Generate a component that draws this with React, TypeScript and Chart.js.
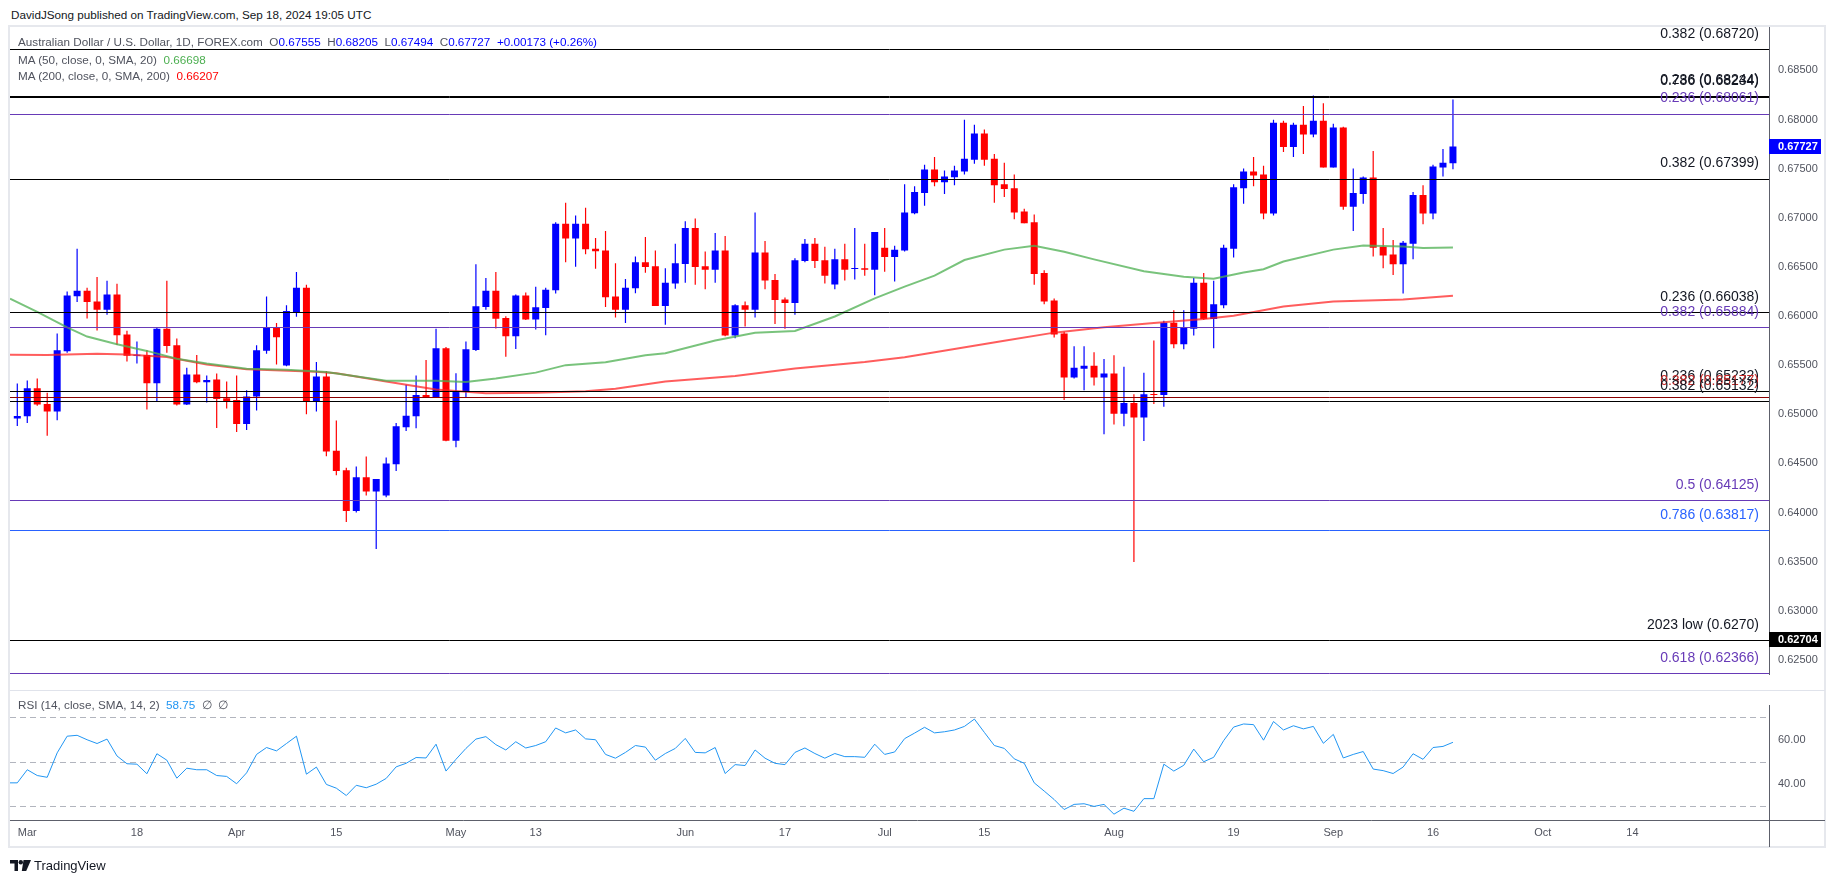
import React, { useEffect, useRef } from "react";
import { Chart, registerables } from "chart.js";

Chart.register(...registerables);

const FONT = "'Liberation Sans', Arial, sans-serif";

// bar index 0 = 29 Feb 2024 ... 144 = 18 Sep 2024 (daily, weekdays)
const opens = [
  0.64956, 0.64980, 0.65264, 0.65105, 0.65029, 0.65642, 0.66202, 0.66258, 0.66149, 0.66063,
  0.66219, 0.65811, 0.65596, 0.65603, 0.65317, 0.65871, 0.65702, 0.65099, 0.65404, 0.65327,
  0.65354, 0.65162, 0.65145, 0.64900, 0.65182, 0.65646, 0.65884, 0.65496, 0.66040, 0.66288,
  0.65132, 0.65384, 0.64628, 0.64430, 0.64015, 0.64360, 0.64214, 0.64174, 0.64492, 0.64867,
  0.64980, 0.65195, 0.65168, 0.65672, 0.64731, 0.65228, 0.65655, 0.66093, 0.66258, 0.65980,
  0.65795, 0.66209, 0.65964, 0.66083, 0.66262, 0.66940, 0.66789, 0.66940, 0.66686, 0.66666,
  0.66199, 0.66063, 0.66282, 0.66547, 0.66507, 0.66103, 0.66331, 0.66530, 0.66895, 0.66507,
  0.66470, 0.66666, 0.65801, 0.66109, 0.66063, 0.66646, 0.66368, 0.66169, 0.66133, 0.66560,
  0.66736, 0.66567, 0.66321, 0.66577, 0.66480, 0.66487, 0.66470, 0.66696, 0.66600, 0.66666,
  0.67047, 0.67253, 0.67491, 0.67362, 0.67412, 0.67471, 0.67590, 0.67859, 0.67600, 0.67342,
  0.67302, 0.67064, 0.66954, 0.66437, 0.66159, 0.65821, 0.65374, 0.65463, 0.65493, 0.65374,
  0.65414, 0.65006, 0.65115, 0.64966, 0.65205, 0.65195, 0.65931, 0.65712, 0.65871, 0.66338,
  0.65970, 0.66109, 0.66686, 0.67302, 0.67471, 0.67441, 0.67044, 0.67968, 0.67720, 0.67948,
  0.67849, 0.67988, 0.67511, 0.67918, 0.67113, 0.67242, 0.67410, 0.66706, 0.66626, 0.66527,
  0.66736, 0.67233, 0.67044, 0.67511, 0.67555,
];
const highs = [
  0.65314, 0.65344, 0.65364, 0.65218, 0.65821, 0.66249, 0.66686, 0.66288, 0.66398, 0.66358,
  0.66328, 0.65851, 0.65742, 0.65652, 0.65884, 0.66358, 0.65771, 0.65473, 0.65603, 0.65394,
  0.65414, 0.65334, 0.65394, 0.65245, 0.65702, 0.66199, 0.65930, 0.66110, 0.66447, 0.66318,
  0.65533, 0.65440, 0.64936, 0.64456, 0.64469, 0.64569, 0.64340, 0.64559, 0.64910, 0.65301,
  0.65394, 0.65553, 0.65871, 0.65685, 0.65417, 0.65742, 0.66527, 0.66388, 0.66447, 0.65997,
  0.66219, 0.66239, 0.66298, 0.66288, 0.66954, 0.67153, 0.67024, 0.67103, 0.66795, 0.66865,
  0.66537, 0.66378, 0.66606, 0.66805, 0.66666, 0.66487, 0.66736, 0.66964, 0.66994, 0.66656,
  0.66845, 0.66815, 0.66119, 0.66149, 0.67054, 0.66765, 0.66428, 0.66189, 0.66587, 0.66785,
  0.66795, 0.66706, 0.66686, 0.66736, 0.66895, 0.66736, 0.66855, 0.66895, 0.66716, 0.67342,
  0.67322, 0.67540, 0.67620, 0.67481, 0.67531, 0.67998, 0.67948, 0.67899, 0.67650, 0.67560,
  0.67440, 0.67093, 0.67034, 0.66467, 0.66179, 0.65841, 0.65692, 0.65692, 0.65632, 0.65563,
  0.65602, 0.65483, 0.65205, 0.65423, 0.65752, 0.65951, 0.66060, 0.66060, 0.66388, 0.66437,
  0.66358, 0.66726, 0.67342, 0.67501, 0.67620, 0.67530, 0.67998, 0.67988, 0.67968, 0.68137,
  0.68246, 0.68167, 0.67958, 0.67928, 0.67501, 0.67420, 0.67680, 0.66895, 0.66775, 0.66765,
  0.67262, 0.67332, 0.67541, 0.67700, 0.68205,
];
const lows = [
  0.64880, 0.64910, 0.65086, 0.64781, 0.64940, 0.65626, 0.66143, 0.65974, 0.65854, 0.66013,
  0.65705, 0.65536, 0.65516, 0.65049, 0.65132, 0.65626, 0.65090, 0.65095, 0.65317, 0.65119,
  0.64860, 0.65059, 0.64820, 0.64840, 0.65039, 0.65616, 0.65506, 0.65490, 0.65993, 0.64999,
  0.65029, 0.64572, 0.64380, 0.63903, 0.63999, 0.64174, 0.63628, 0.64154, 0.64423, 0.64830,
  0.64857, 0.65165, 0.65165, 0.64725, 0.64665, 0.65168, 0.65645, 0.66063, 0.65874, 0.65586,
  0.65665, 0.65960, 0.65864, 0.65805, 0.66229, 0.66547, 0.66501, 0.66630, 0.66481, 0.66093,
  0.65984, 0.65930, 0.66232, 0.66441, 0.66103, 0.65910, 0.66278, 0.66338, 0.66318, 0.66272,
  0.66338, 0.65795, 0.65775, 0.65894, 0.65984, 0.66272, 0.65920, 0.65870, 0.66013, 0.66547,
  0.66490, 0.66331, 0.66272, 0.66361, 0.66371, 0.66411, 0.66212, 0.66451, 0.66351, 0.66656,
  0.67037, 0.67123, 0.67322, 0.67243, 0.67332, 0.67441, 0.67550, 0.67530, 0.67153, 0.67213,
  0.66984, 0.66944, 0.66318, 0.66119, 0.65781, 0.65145, 0.65364, 0.65245, 0.65294, 0.64797,
  0.64897, 0.64877, 0.63495, 0.64727, 0.65105, 0.65076, 0.65672, 0.65662, 0.65801, 0.65960,
  0.65672, 0.66080, 0.66596, 0.67143, 0.67322, 0.66984, 0.67024, 0.67670, 0.67620, 0.67650,
  0.67819, 0.67511, 0.67511, 0.67083, 0.66865, 0.67143, 0.66606, 0.66487, 0.66417, 0.66229,
  0.66577, 0.66934, 0.66984, 0.67421, 0.67494,
];
const closes = [
  0.64983, 0.65264, 0.65099, 0.65029, 0.65652, 0.66209, 0.66258, 0.66143, 0.66063, 0.66219,
  0.65805, 0.65596, 0.65603, 0.65317, 0.65871, 0.65695, 0.65099, 0.65404, 0.65327, 0.65350,
  0.65155, 0.65132, 0.64900, 0.65182, 0.65652, 0.65884, 0.65785, 0.66050, 0.66288, 0.65132,
  0.65384, 0.64622, 0.64423, 0.64015, 0.64360, 0.64214, 0.64340, 0.64499, 0.64877, 0.64986,
  0.65195, 0.65168, 0.65672, 0.64731, 0.65235, 0.65662, 0.66099, 0.66258, 0.65973, 0.65795,
  0.66209, 0.65964, 0.66089, 0.66268, 0.66940, 0.66789, 0.66940, 0.66679, 0.66659, 0.66192,
  0.66063, 0.66288, 0.66547, 0.66500, 0.66103, 0.66338, 0.66537, 0.66895, 0.66500, 0.66470,
  0.66666, 0.65801, 0.66109, 0.66063, 0.66646, 0.66361, 0.66162, 0.66133, 0.66567, 0.66736,
  0.66560, 0.66411, 0.66577, 0.66470, 0.66487, 0.66470, 0.66855, 0.66600, 0.66676, 0.67054,
  0.67262, 0.67491, 0.67362, 0.67421, 0.67481, 0.67600, 0.67859, 0.67590, 0.67332, 0.67292,
  0.67054, 0.66944, 0.66427, 0.66149, 0.65811, 0.65374, 0.65473, 0.65493, 0.65374, 0.65414,
  0.65006, 0.65115, 0.64966, 0.65205, 0.65195, 0.65931, 0.65712, 0.65881, 0.66338, 0.65970,
  0.66119, 0.66696, 0.67312, 0.67471, 0.67431, 0.67044, 0.67968, 0.67720, 0.67948, 0.67849,
  0.67988, 0.67511, 0.67918, 0.67113, 0.67252, 0.67410, 0.66696, 0.66616, 0.66527, 0.66745,
  0.67233, 0.67044, 0.67521, 0.67561, 0.67727,
];

// moving averages (bar index, value)
const ma50X = [-0.73, 2, 5, 7, 10, 13, 16, 19, 23, 27, 31, 37, 42, 45, 48, 52, 55, 59, 63, 65, 70, 74, 78, 82, 86, 89, 92, 95, 99, 102, 105, 108, 113, 117, 120, 123, 125, 127, 132, 135, 139, 141, 144];
const ma50Y = [0.66176, 0.66043, 0.65885, 0.65791, 0.65712, 0.65645, 0.65566, 0.65516, 0.65463, 0.65453, 0.65430, 0.65341, 0.65340, 0.65328, 0.65365, 0.65424, 0.65500, 0.65530, 0.65600, 0.65622, 0.65750, 0.65830, 0.65848, 0.65995, 0.66180, 0.66300, 0.66411, 0.66570, 0.66676, 0.66716, 0.66655, 0.66577, 0.66455, 0.66401, 0.66380, 0.66444, 0.66477, 0.66555, 0.66676, 0.66719, 0.66709, 0.66692, 0.66698];
const ma200X = [-0.73, 3, 8, 11, 15, 19, 23, 30, 32, 37, 42, 47, 52, 57, 60, 65, 72, 78, 85, 89, 94, 99, 104, 109, 114, 119, 122, 127, 132, 139, 144];
const ma200Y = [0.65606, 0.65603, 0.65616, 0.65609, 0.65583, 0.65506, 0.65457, 0.65433, 0.65417, 0.65334, 0.65251, 0.65215, 0.65218, 0.65235, 0.65260, 0.65334, 0.65390, 0.65467, 0.65533, 0.65580, 0.65665, 0.65748, 0.65831, 0.65887, 0.65930, 0.65970, 0.66004, 0.66096, 0.66149, 0.66169, 0.66207];

// RSI for bar index -1 .. 144
const rsiValues = [
  40.5,
  40.5, 46.4, 43.8, 43.0, 54.0, 61.5, 61.9, 59.9, 58.2, 60.2,
  52.6, 49.1, 48.9, 44.6, 53.6, 50.7, 42.6, 47.1, 46.4, 46.4,
  43.8, 43.4, 40.1, 45.0, 53.3, 56.4, 54.9, 58.2, 61.5, 44.4,
  47.6, 39.8, 38.1, 34.8, 39.4, 38.3, 39.9, 42.5, 47.7, 49.3,
  51.9, 51.7, 57.9, 45.8, 51.1, 56.0, 60.2, 61.3, 57.7, 55.3,
  59.0, 56.2, 57.3, 59.0, 65.2, 63.0, 64.3, 60.3, 59.9, 53.3,
  51.6, 54.2, 57.3, 56.6, 50.7, 53.7, 56.0, 60.5, 54.2, 54.0,
  56.4, 44.7, 48.7, 48.3, 55.3, 51.6, 49.3, 48.7, 54.2, 56.2,
  53.7, 51.6, 53.7, 52.3, 52.3, 52.0, 57.9, 53.3, 54.4, 60.4,
  62.9, 65.5, 63.0, 63.5, 64.3, 65.9, 69.2, 63.2, 57.3, 56.0,
  51.3, 49.3, 40.5, 36.8, 33.0, 28.5, 30.8, 31.1, 29.9, 30.8,
  26.4, 29.1, 27.7, 33.4, 33.4, 48.9, 45.8, 48.4, 55.7, 50.0,
  52.0, 59.5, 65.6, 67.0, 66.7, 59.7, 68.1, 64.3, 66.2, 64.8,
  65.9, 58.3, 62.3, 51.7, 53.3, 54.6, 46.7, 46.0, 44.7, 47.6,
  53.6, 51.1, 56.4, 56.9, 58.75,
];

const dateTickIdx = [1, 12, 22, 32, 44, 52, 67, 77, 87, 97, 110, 122, 132, 142, 153, 162];
const dateTickLabels = ["Mar", "18", "Apr", "15", "May", "13", "Jun", "17", "Jul", "15", "Aug", "19", "Sep", "16", "Oct", "14"];

const rsiTicks = [40, 60];
const rsiLevels = [70, 50, 30];

const levelValues = [0.6872, 0.68244, 0.68234, 0.68061, 0.67399, 0.66038, 0.65884, 0.65232, 0.6518, 0.65132, 0.64125, 0.63817, 0.62704, 0.62366];
const levelLabels = ["0.382 (0.68720)", "0.236 (0.68244)", "0.786 (0.68234)", "0.236 (0.68061)", "0.382 (0.67399)", "0.236 (0.66038)", "0.382 (0.65884)", "0.236 (0.65232)", "0.382 (0.65177)", "0.382 (0.65132)", "0.5 (0.64125)", "0.786 (0.63817)", "2023 low (0.6270)", "0.618 (0.62366)"];
const levelColors = ["#000000", "#000000", "#000000", "#673ab7", "#000000", "#000000", "#673ab7", "#000000", "#8b0000", "#000000", "#673ab7", "#2962ff", "#000000", "#673ab7"];
const levelTextColors = ["#131722", "#131722", "#131722", "#673ab7", "#131722", "#131722", "#673ab7", "#131722", "#c62828", "#131722", "#673ab7", "#2962ff", "#131722", "#673ab7"];

const badgeValues = [closes[closes.length - 1], 0.62704];
const badgeColors = ["#0000ff", "#000000"];

const X_MIN = -0.732;
const X_MAX = 175.7;
const P_MIN = 0.623519;
const P_MAX = 0.689423;
const RSI_MIN = 23.78;
const RSI_MAX = 75.27;

const UP = "#0000ff";
const DOWN = "#ff0000";
const AXIS = "#5d606b";
const TICK = "#50535e";

const levelsPlugin = {
  id: "levels",
  afterDatasetsDraw(chart: any) {
    const { ctx, chartArea } = chart;
    const ys = chart.scales.y;
    ctx.save();
    levelValues.forEach((v, i) => {
      const y = Math.round(ys.getPixelForValue(v)) + 0.5;
      ctx.strokeStyle = levelColors[i];
      ctx.lineWidth = 1;
      ctx.beginPath();
      ctx.moveTo(chartArea.left, y);
      ctx.lineTo(chartArea.right, y);
      ctx.stroke();
    });
    ctx.font = `14px ${FONT}`;
    ctx.textAlign = "right";
    ctx.textBaseline = "middle";
    levelValues.forEach((v, i) => {
      const y = ys.getPixelForValue(v);
      ctx.fillStyle = levelTextColors[i];
      ctx.fillText(levelLabels[i], chartArea.right - 10, y - 15);
    });
    ctx.restore();
  },
  afterDraw(chart: any) {
    const { ctx, chartArea } = chart;
    const ys = chart.scales.y;
    ctx.save();
    ctx.font = `bold 11px ${FONT}`;
    ctx.textAlign = "left";
    ctx.textBaseline = "middle";
    badgeValues.forEach((v, i) => {
      const y = ys.getPixelForValue(v);
      ctx.fillStyle = badgeColors[i];
      ctx.fillRect(chartArea.right, Math.round(y - 7.5), 52, 15);
      ctx.fillStyle = "#ffffff";
      ctx.fillText(v.toFixed(5), chartArea.right + 9, y + 0.5);
    });
    ctx.restore();
  },
};

const rsiPlugin = {
  id: "rsiLevels",
  beforeDatasetsDraw(chart: any) {
    const { ctx, chartArea } = chart;
    const ys = chart.scales.y;
    ctx.save();
    ctx.strokeStyle = "#b2b5be";
    ctx.lineWidth = 1;
    ctx.setLineDash([6, 4]);
    rsiLevels.forEach((v) => {
      const y = Math.round(ys.getPixelForValue(v)) + 0.5;
      ctx.beginPath();
      ctx.moveTo(chartArea.left, y);
      ctx.lineTo(chartArea.right, y);
      ctx.stroke();
    });
    ctx.restore();
  },
  afterDraw(chart: any) {
    const { ctx, chartArea } = chart;
    ctx.save();
    ctx.lineWidth = 1;
    ctx.strokeStyle = "#e0e3eb";
    ctx.beginPath();
    ctx.moveTo(chartArea.left, 0.5);
    ctx.lineTo(1825, 0.5);
    ctx.stroke();
    ctx.strokeStyle = AXIS;
    ctx.beginPath();
    ctx.moveTo(chartArea.left, chartArea.bottom + 0.5);
    ctx.lineTo(1825, chartArea.bottom + 0.5);
    ctx.stroke();
    ctx.beginPath();
    ctx.moveTo(chartArea.right + 0.5, chartArea.bottom);
    ctx.lineTo(chartArea.right + 0.5, chartArea.bottom + 27);
    ctx.stroke();
    ctx.restore();
  },
};

export default function App() {
  const priceRef = useRef<HTMLCanvasElement>(null);
  const rsiRef = useRef<HTMLCanvasElement>(null);

  useEffect(() => {
    const candleColors = closes.map((c, i) => (c >= opens[i] ? UP : DOWN));
    const priceChart = new Chart(priceRef.current as HTMLCanvasElement, {
      type: "bar",
      data: {
        datasets: [
          {
            type: "line",
            label: "MA50",
            data: ma50X.map((x, i) => ({ x, y: ma50Y[i] })),
            borderColor: "rgba(76,175,80,0.75)",
            borderWidth: 2,
            pointRadius: 0,
            tension: 0,
            order: 0,
          },
          {
            type: "line",
            label: "MA200",
            data: ma200X.map((x, i) => ({ x, y: ma200Y[i] })),
            borderColor: "rgba(255,30,30,0.72)",
            borderWidth: 2,
            pointRadius: 0,
            tension: 0,
            order: 0,
          },
          {
            type: "bar",
            label: "body",
            data: opens.map((o, i) => ({ x: i, y: [o, closes[i]] })),
            backgroundColor: candleColors,
            barThickness: 7,
            minBarLength: 1,
            grouped: false,
            inflateAmount: 0,
            order: 1,
          },
          {
            type: "bar",
            label: "wick",
            data: lows.map((l, i) => ({ x: i, y: [l, highs[i]] })),
            backgroundColor: candleColors,
            barThickness: 1.2,
            grouped: false,
            inflateAmount: 0,
            order: 2,
          },
        ],
      } as any,
      options: {
        responsive: false,
        animation: false,
        events: [],
        layout: { padding: { left: 10, top: 27, right: 10, bottom: 0 } },
        plugins: { legend: { display: false }, tooltip: { enabled: false } },
        scales: {
          x: { type: "linear", min: X_MIN, max: X_MAX, display: false, offset: false },
          y: {
            type: "linear",
            position: "right",
            min: P_MIN,
            max: P_MAX,
            beginAtZero: false,
            grid: { display: false, drawTicks: false },
            border: { display: true, color: AXIS },
            ticks: {
              stepSize: 0.005,
              includeBounds: false,
              padding: 9,
              color: TICK,
              font: { family: FONT, size: 11 },
              callback: (v: any) => Number(v).toFixed(5),
            },
            afterFit: (s: any) => {
              s.width = 56;
            },
          },
        },
      } as any,
      plugins: [levelsPlugin],
    });

    const rsiChart = new Chart(rsiRef.current as HTMLCanvasElement, {
      type: "line",
      data: {
        datasets: [
          {
            label: "RSI",
            data: rsiValues.map((v, i) => ({ x: i - 1, y: v })),
            borderColor: "#2196f3",
            borderWidth: 1,
            pointRadius: 0,
            tension: 0,
          },
        ],
      },
      options: {
        responsive: false,
        animation: false,
        events: [],
        layout: { padding: { left: 10, top: 0, right: 10, bottom: 36 } },
        plugins: { legend: { display: false }, tooltip: { enabled: false } },
        scales: {
          x: {
            type: "linear",
            min: X_MIN,
            max: X_MAX,
            offset: false,
            grid: { display: false, drawTicks: false },
            border: { display: false },
            ticks: {
              autoSkip: false,
              maxRotation: 0,
              padding: 6,
              color: TICK,
              font: { family: FONT, size: 11 },
              callback: (_v: any, idx: number) => dateTickLabels[idx],
            },
            afterBuildTicks: (s: any) => {
              s.ticks = dateTickIdx.map((v) => ({ value: v }));
            },
            afterFit: (s: any) => {
              s.height = 27;
            },
          },
          y: {
            type: "linear",
            position: "right",
            min: RSI_MIN,
            max: RSI_MAX,
            grid: { display: false, drawTicks: false },
            border: { display: true, color: AXIS },
            ticks: {
              padding: 9,
              color: TICK,
              font: { family: FONT, size: 11 },
              callback: (v: any) => Number(v).toFixed(2),
            },
            afterBuildTicks: (s: any) => {
              s.ticks = rsiTicks.map((v) => ({ value: v }));
            },
            afterFit: (s: any) => {
              s.width = 56;
            },
          },
        },
      } as any,
      plugins: [rsiPlugin],
    });

    return () => {
      priceChart.destroy();
      rsiChart.destroy();
    };
  }, []);

  const txt: React.CSSProperties = { position: "absolute", whiteSpace: "nowrap", fontSize: 11.7, lineHeight: "14px" };
  const gray = "#50535e";
  const blue = "#0000ff";

  return (
    <div
      style={{
        position: "absolute",
        left: 0,
        top: 0,
        width: 1835,
        height: 883,
        background: "#ffffff",
        overflow: "hidden",
        fontFamily: FONT,
        color: "#131722",
      }}
    >
      <div style={{ ...txt, left: 11, top: 8, color: "#131722" }}>
        DavidJSong published on TradingView.com, Sep 18, 2024 19:05 UTC
      </div>
      <div
        style={{
          position: "absolute",
          left: 8,
          top: 25,
          width: 1818,
          height: 823,
          border: "2px solid #e6e8ed",
          boxSizing: "border-box",
        }}
      />
      <canvas ref={priceRef} width={1835} height={690} style={{ position: "absolute", left: 0, top: 0, width: 1835, height: 690 }} />
      <canvas ref={rsiRef} width={1835} height={193} style={{ position: "absolute", left: 0, top: 690, width: 1835, height: 193 }} />

      <div style={{ ...txt, left: 18, top: 35, color: gray }}>
        Australian Dollar / U.S. Dollar, 1D, FOREX.com&nbsp;&nbsp;
        <span>O</span><span style={{ color: blue }}>0.67555</span>&nbsp;&nbsp;
        <span>H</span><span style={{ color: blue }}>0.68205</span>&nbsp;&nbsp;
        <span>L</span><span style={{ color: blue }}>0.67494</span>&nbsp;&nbsp;
        <span>C</span><span style={{ color: blue }}>0.67727</span>&nbsp;&nbsp;
        <span style={{ color: blue }}>+0.00173 (+0.26%)</span>
      </div>
      <div style={{ ...txt, left: 18, top: 53, color: gray }}>
        MA (50, close, 0, SMA, 20)&nbsp;&nbsp;<span style={{ color: "#4caf50" }}>0.66698</span>
      </div>
      <div style={{ ...txt, left: 18, top: 69, color: gray }}>
        MA (200, close, 0, SMA, 200)&nbsp;&nbsp;<span style={{ color: "#ff0000" }}>0.66207</span>
      </div>
      <div style={{ ...txt, left: 18, top: 698, color: gray }}>
        RSI (14, close, SMA, 14, 2)&nbsp;&nbsp;<span style={{ color: "#2196f3" }}>58.75</span>&nbsp;&nbsp;∅&nbsp;&nbsp;∅
      </div>

      <div style={{ position: "absolute", left: 10, top: 859, display: "flex", alignItems: "center" }}>
        <svg width="21" height="11" viewBox="0 0 21 11">
          <path d="M0 0 H8 V11 H4.5 V3.5 H0 Z" fill="#131722" />
          <circle cx="10.8" cy="2.2" r="2.2" fill="#131722" />
          <path d="M13.5 0 H21 L16.2 11 H11.8 Z" fill="#131722" />
        </svg>
        <span style={{ marginLeft: 3, fontSize: 13, color: "#131722", lineHeight: "13px" }}>TradingView</span>
      </div>
    </div>
  );
}
